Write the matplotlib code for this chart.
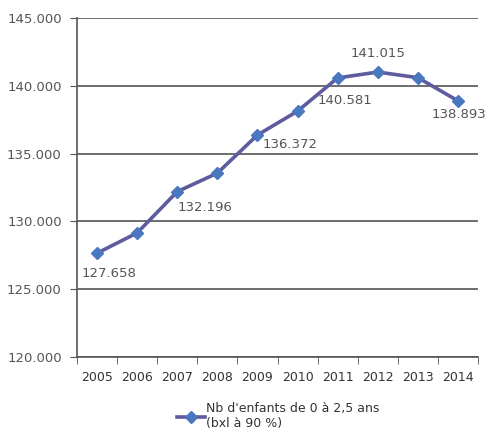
import matplotlib.pyplot as plt
from matplotlib.ticker import FuncFormatter, FixedLocator
from matplotlib.lines import Line2D

years = ['2005', '2006', '2007', '2008', '2009', '2010', '2011', '2012', '2013', '2014']
children = [127658, 129150, 132196, 133560, 136372, 138130, 140581, 141015, 140600, 138893]
# which points carry a value label, and where (offset in pixels)
labelled = {0: (12, -20), 2: (28, -16), 4: (33, -10), 6: (7, -23), 7: (0, 19), 9: (1, -14)}
series_name = "Nb d'enfants de 0 à 2,5 ans\n(bxl à 90 %)"

text_color = '#555555'
line_color = '#5E5B9E'
marker_color = '#4A78BE'

fig = plt.figure(figsize=(4.88, 4.38), dpi=100)
ax = fig.add_axes([77 / 488, 1 - 357 / 438, 401 / 488, 339 / 438])

x = range(len(years))
ax.plot(x, children, color=line_color, linewidth=2.6, marker='D', markersize=6,
        markerfacecolor=marker_color, markeredgecolor=marker_color, zorder=3)

for i, (dx, dy) in labelled.items():
    ax.annotate(f'{children[i] / 1000:.3f}', (i, children[i]), xytext=(dx, dy),
                textcoords='offset pixels', ha='center', va='center',
                fontsize=9.5, color=text_color)

ax.set_xlim(-0.5, len(years) - 0.5)
ax.set_ylim(120000, 145000)
ax.set_yticks(range(120000, 145001, 5000))
ax.yaxis.set_major_formatter(FuncFormatter(lambda v, p: f'{v / 1000:.3f}'))
ax.set_xticks(list(x))
ax.set_xticklabels(years)
ax.xaxis.set_minor_locator(FixedLocator([i - 0.5 for i in range(len(years) + 1)]))
ax.tick_params(axis='x', which='major', length=0, pad=10, labelsize=9, labelcolor='#333333')
ax.tick_params(axis='x', which='minor', length=5, color='#555555', direction='out')
ax.tick_params(axis='y', length=5, color='#555555', labelsize=9.5, labelcolor=text_color, pad=6)
ax.grid(axis='y', color='#555555', linewidth=1.2)
for side in ['top', 'right']:
    ax.spines[side].set_visible(False)
for side in ['left', 'bottom']:
    ax.spines[side].set_color('#555555')
    ax.spines[side].set_linewidth(1.2)

handle = Line2D([], [], color=line_color, linewidth=2.6, marker='D', markersize=6,
                markerfacecolor=marker_color, markeredgecolor=marker_color)
fig.legend([handle], [series_name], loc='center', bbox_to_anchor=(0.57, 0.05),
           frameon=False, fontsize=9, labelcolor='#333333', handlelength=2.2,
           handletextpad=0.1)

fig.savefig('out.png', dpi=100)
